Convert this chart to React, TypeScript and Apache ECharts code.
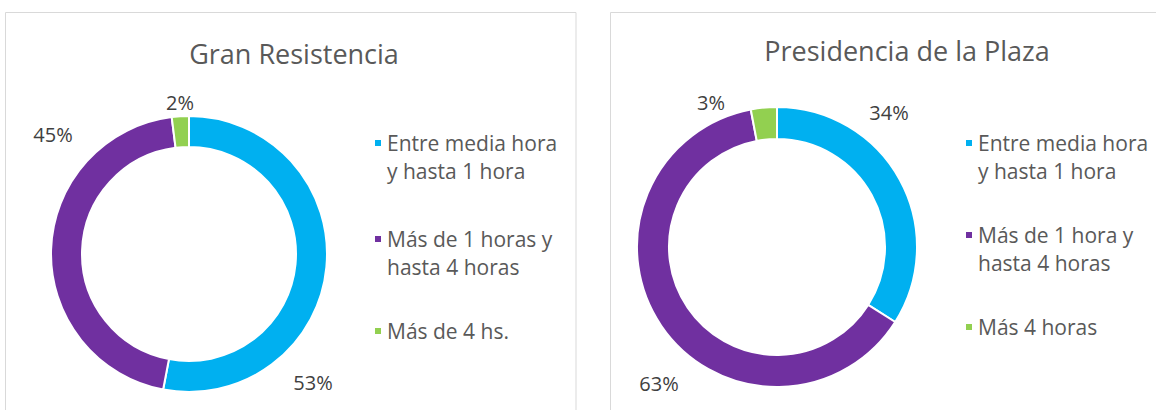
import React, { useEffect, useRef } from 'react';
import * as echarts from 'echarts';

const LEFT_TITLE = 'Gran Resistencia';
const RIGHT_TITLE = 'Presidencia de la Plaza';
const LEFT_CATEGORIES = ['Entre media hora\ny hasta 1 hora', 'Más de 1 horas y\nhasta 4 horas', 'Más de 4 hs.'];
const LEFT_VALUES = [53, 45, 2];
const RIGHT_CATEGORIES = ['Entre media hora\ny hasta 1 hora', 'Más de 1 hora y\nhasta 4 horas', 'Más 4 horas'];
const RIGHT_VALUES = [34, 63, 3];
const COLORS = ['#00B0F0', '#7030A0', '#92D050'];

// layout (not data)
const FONT = "'Open Sans', 'Noto Sans', sans-serif";
const LINE_H = 28;
const LEFT_LABEL_POS = [[313, 382], [53, 134], [180, 102]];
const RIGHT_LABEL_POS = [[889, 112], [659, 383], [711, 102]];
const LEFT_LEGEND_Y = [143, 239, 331];
const RIGHT_LEGEND_Y = [143, 235, 327];

function pieSeries(name: string, cats: string[], vals: number[], center: number[], radius: number[], labelPos: number[][]) {
  return {
    type: 'pie',
    name,
    center,
    radius,
    startAngle: 90,
    clockwise: true,
    avoidLabelOverlap: false,
    data: cats.map((c, i) => ({ name: c, value: vals[i], itemStyle: { color: COLORS[i] } })),
    itemStyle: { borderColor: '#ffffff', borderWidth: 2 },
    label: {
      show: true,
      position: 'outside',
      formatter: (p: any) => p.value + '%',
      fontFamily: FONT,
      fontSize: 20,
      color: '#404040',
    },
    labelLine: { show: false },
    labelLayout: (p: any) => ({
      x: labelPos[p.dataIndex][0],
      y: labelPos[p.dataIndex][1],
      align: 'center',
      verticalAlign: 'middle',
    }),
    emphasis: { disabled: true },
  };
}

// one legend per item so each icon sits beside the first line of its text
function legends(cats: string[], ys: number[], left: number) {
  return cats.map((c, i) => {
    const multi = c.includes('\n');
    const blockH = (multi ? 3 : 1) * LINE_H;
    return {
      orient: 'vertical',
      left,
      top: ys[i] - blockH / 2,
      padding: 0,
      itemWidth: 8,
      itemHeight: 8,
      icon: 'rect',
      selectedMode: false,
      formatter: (n: string) => (n.includes('\n') ? '\n' + n : n),
      textStyle: { fontFamily: FONT, fontSize: 21, lineHeight: LINE_H, color: '#595959' },
      data: [c],
    };
  });
}

export default function App() {
  const ref = useRef<HTMLDivElement>(null);
  useEffect(() => {
    const chart = echarts.init(ref.current!, undefined, { renderer: 'svg' });
    chart.setOption({
      animation: false,
      backgroundColor: '#ffffff',
      graphic: [
        { type: 'rect', shape: { x: 5.5, y: 12.5, width: 570.5, height: 420 }, style: { fill: 'none', stroke: '#d9d9d9', lineWidth: 1 }, silent: true },
        { type: 'rect', shape: { x: 610.5, y: 12.5, width: 600, height: 420 }, style: { fill: 'none', stroke: '#d9d9d9', lineWidth: 1 }, silent: true },
        { type: 'text', style: { text: LEFT_TITLE, x: 294, y: 53, align: 'center', verticalAlign: 'middle', fontFamily: FONT, fontSize: 27, fill: '#595959' }, silent: true },
        { type: 'text', style: { text: RIGHT_TITLE, x: 907, y: 50, align: 'center', verticalAlign: 'middle', fontFamily: FONT, fontSize: 27, fill: '#595959' }, silent: true },
      ],
      legend: [
        ...legends(LEFT_CATEGORIES, LEFT_LEGEND_Y, 373),
        ...legends(RIGHT_CATEGORIES, RIGHT_LEGEND_Y, 964),
      ],
      series: [
        pieSeries(LEFT_TITLE, LEFT_CATEGORIES, LEFT_VALUES, [189, 254], [107, 138], LEFT_LABEL_POS),
        pieSeries(RIGHT_TITLE, RIGHT_CATEGORIES, RIGHT_VALUES, [777, 247], [108, 140], RIGHT_LABEL_POS),
      ],
    });
    return () => chart.dispose();
  }, []);
  return <div ref={ref} style={{ position: 'fixed', left: 0, top: 0, width: 1156, height: 410 }} />;
}
